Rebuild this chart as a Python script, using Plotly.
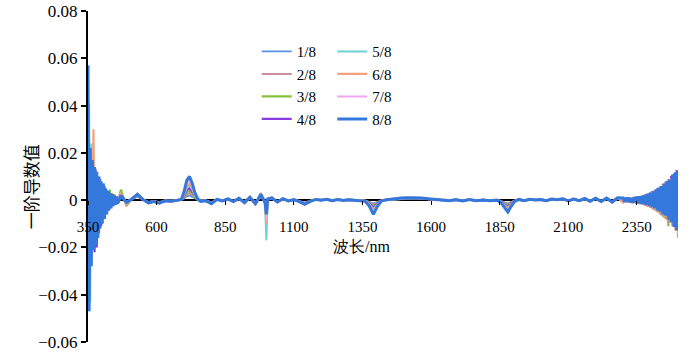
import numpy as np
import plotly.graph_objects as go

# wavelength sampling (nm)
wavelength = [
    350, 354, 358, 362, 366, 370, 374, 378, 382, 386, 390, 394, 398, 402, 406, 410, 414, 418, 422, 426, 430, 434, 438, 442, 446, 450, 454, 458,
    470, 490, 510, 530, 550, 570, 590, 610, 630, 650, 670, 690,
    700, 710, 720, 730, 740, 750, 760,
    780, 800, 820, 840, 860, 880, 900, 920, 940, 960, 980,
    995, 1000, 1005,
    1020, 1040, 1060, 1080, 1100, 1120, 1140, 1160, 1180, 1200, 1220, 1240, 1260, 1280, 1300, 1320, 1340,
    1360, 1375, 1390, 1405, 1420,
    1440, 1465, 1490, 1515, 1540, 1565, 1590, 1615, 1640, 1665, 1690, 1715, 1740, 1765, 1790, 1815, 1840,
    1855, 1870, 1880, 1890, 1905,
    1920, 1940, 1960, 1980, 2000, 2020, 2040, 2060, 2080, 2100, 2120, 2140, 2160, 2180, 2200, 2220, 2240, 2260, 2280,
    2300, 2305, 2310, 2315, 2320, 2325, 2330, 2335, 2340, 2345, 2350, 2355, 2360, 2365, 2370, 2375, 2380, 2385, 2390, 2395,
    2400, 2405, 2410, 2415, 2420, 2425, 2430, 2435, 2440, 2445, 2450, 2455, 2460, 2465, 2470, 2475, 2480, 2485, 2490, 2495, 2500,
]

# first-derivative values, in units of 1e-3
d_1_8 = [
    12, -15, 9, -11, 8, -10, 7, -8, 6, -7, 5, -6, 4, -5, 3.5, -4, 3, -3, 2.5, -2.5, 2, -2, 1.5, -1.5, 1.2, -1.2, 1, -1,
    1.2, -0.6, 0.3, 1.5, 0.2, -0.7, -0.3, -0.8, -0.2, -0.3, -0.1, 0.2,
    0.7, 1.6, 2.0, 1.4, 0.6, 0.1, -0.2,
    -0.2, -0.8, 0.2, -0.2, 0.3, -0.4, 0.5, -0.6, 0.7, -0.8, 1.2,
    -0.5, -3.0, 0.3,
    0.6, -0.5, 0.4, -0.2, 0.1, -0.4, -0.9, -0.3, 0.2, 0.0, 0.2, -0.1, 0.2, -0.1, 0.1, 0.0, -0.2,
    -0.2, -0.7, -1.5, -0.7, -0.1,
    0.1, 0.3, 0.5, 0.6, 0.6, 0.5, 0.3, 0.2, 0.1, -0.1, 0.1, -0.2, 0.2, -0.1, 0.1, -0.2, 0.0,
    -0.3, -1.0, -1.4, -0.8, -0.2,
    0.2, -0.1, 0.2, 0.1, 0.2, -0.1, 0.3, 0.1, 0.3, -0.2, 0.3, -0.1, 0.4, -0.3, 0.5, -0.4, 0.5, -0.5, 0.6,
    0.5, -0.4, 0.6, -0.4, 0.6, -0.5, 0.5, -0.7, 0.8, -0.6, 0.8, -0.8, 1.0, -0.9, 1.1, -1.0, 1.3, -1.2, 1.6, -1.4,
    1.9, -1.7, 2.2, -2.0, 2.8, -2.6, 3.2, -3.0, 3.6, -3.6, 4.2, -4.0, 4.8, -5.0, 5.4, -5.8, 6.6, -7.0, 7.4, -7.8, 7.6,
]
d_2_8 = [
    15, -18, 11, -13, 9, -12, 8, -10, 7, -8, 6, -7, 5, -6, 4, -5, 3.5, -3.5, 3, -3, 2.5, -2.5, 2, -2, 1.5, -1.5, 1.2, -1.2,
    1.5, -0.8, 0.4, 1.8, 0.2, -0.9, -0.4, -1.0, -0.2, -0.4, -0.1, 0.2,
    1.0, 2.4, 3.0, 2.1, 0.9, 0.2, -0.2,
    -0.2, -1.0, 0.2, -0.2, 0.4, -0.4, 0.6, -0.7, 0.9, -1.0, 1.5,
    -0.6, -4.0, 0.3,
    0.7, -0.6, 0.4, -0.2, 0.2, -0.4, -1.1, -0.3, 0.2, 0.0, 0.3, -0.1, 0.2, -0.1, 0.1, 0.0, -0.2,
    -0.2, -0.9, -2.0, -0.9, -0.1,
    0.1, 0.4, 0.6, 0.7, 0.7, 0.6, 0.4, 0.2, 0.1, -0.1, 0.1, -0.2, 0.2, -0.1, 0.1, -0.2, 0.0,
    -0.4, -1.3, -1.8, -1.1, -0.2,
    0.2, -0.1, 0.3, 0.1, 0.2, -0.2, 0.3, 0.1, 0.4, -0.2, 0.4, -0.2, 0.5, -0.4, 0.6, -0.5, 0.6, -0.6, 0.7,
    -0.6, 0.7, -0.5, 0.7, -0.8, 0.6, -0.9, 0.9, -0.8, 1.0, -1.2, 1.0, -1.3, 1.2, -1.5, 1.4, -1.7, 1.7, -2.1, 2.0,
    -2.4, 2.3, -2.9, 2.8, -3.4, 3.3, -4.0, 3.9, -4.6, 4.5, -5.2, 5.1, -5.9, 5.8, -6.5, 6.3, -7.6, 7.4, -8.3, 8.0, -8.6,
]
d_3_8 = [
    8, -10, 12, -14, 20, -19, 13, -15, 10, -11, 8, -9, 6, -7, 7, -5, 4, -4, 3, -3, 4.5, -2.5, 3, -2, 2.5, -1.5, 1.5, -1.2,
    4.5, -2.5, 0.6, 2.0, 0.3, -1.0, -0.5, -1.1, -0.3, -0.4, -0.2, 0.3,
    1.4, 3.3, 4.0, 2.8, 1.2, 0.2, -0.3,
    -0.3, -1.2, 0.3, -0.3, 0.4, -0.5, 0.9, -1.2, 1.0, -1.3, 2.0,
    -0.8, -5.0, 0.4,
    0.8, -0.7, 0.5, -0.3, 0.2, -0.5, -1.3, -0.4, 0.3, 0.1, 0.3, -0.2, 0.3, -0.1, 0.2, 0.0, -0.2,
    -0.3, -1.2, -2.6, -1.2, -0.2,
    0.2, 0.4, 0.7, 0.8, 0.8, 0.7, 0.5, 0.2, 0.1, -0.2, 0.2, -0.2, 0.2, -0.2, 0.1, -0.2, 0.0,
    -0.5, -1.6, -2.3, -1.4, -0.3,
    0.2, -0.2, 0.3, 0.0, 0.3, -0.2, 0.4, 0.2, 0.5, -0.3, 0.4, -0.3, 0.6, -0.4, 0.7, -0.6, 0.8, -0.7, 0.9,
    0.8, -0.8, 0.7, -0.8, 0.9, -1.0, 0.8, -1.1, 1.1, -1.2, 1.3, -1.4, 1.5, -1.7, 1.8, -2.0, 2.2, -2.4, 2.6, -2.9,
    3.1, -3.5, 3.6, -4.1, 4.4, -5.0, 5.0, -6.0, 5.6, -7.0, 6.4, -8.0, 7.2, -11.0, 7.8, -9.0, 8.8, -10.0, 9.4, -10.5, 9.0,
]
d_4_8 = [
    -10, 14, -12, 16, -18, 12, -22, 13, -20, 10, -14, 9, -11, 7, -8, 6, -6, 4, -4.5, 3.5, -3, 2.5, -2.5, 2, -2, 1.5, -1.2, 1,
    1.8, -1.2, 0.5, 2.2, 0.2, -1.1, -0.5, -1.2, -0.3, -0.5, -0.2, 0.3,
    1.8, 4.2, 5.0, 3.5, 1.5, 0.3, -0.3,
    -0.3, -1.3, 0.3, -0.2, 0.5, -0.7, 0.7, -1.1, 1.3, -1.6, 2.2,
    -0.8, -7.0, 0.4,
    0.9, -0.7, 0.5, -0.3, 0.2, -0.5, -1.4, -0.4, 0.3, 0.0, 0.3, -0.2, 0.3, -0.1, 0.2, -0.1, -0.3,
    -0.3, -1.4, -3.2, -1.4, -0.2,
    0.2, 0.5, 0.7, 0.8, 0.9, 0.7, 0.5, 0.3, 0.1, -0.2, 0.2, -0.3, 0.2, -0.2, 0.1, -0.3, 0.0,
    -0.6, -2.0, -2.8, -1.7, -0.3,
    0.3, -0.2, 0.3, 0.1, 0.3, -0.2, 0.4, 0.1, 0.5, -0.3, 0.5, -0.2, 0.6, -0.5, 0.7, -0.6, 0.8, -0.8, 0.9,
    -0.8, 0.9, -0.7, 1.0, -1.0, 0.8, -1.1, 1.2, -1.0, 1.3, -1.5, 1.3, -1.7, 1.7, -2.0, 2.0, -2.4, 2.6, -2.8, 3.1,
    -3.3, 3.7, -3.9, 4.3, -4.6, 5.1, -5.4, 5.9, -6.4, 6.9, -7.3, 7.9, -8.2, 8.8, -9.4, 10.2, -10.8, 11.2, -11.8, 12.2, 12.0,
]
d_5_8 = [
    15, 41, -43, 24, -20, 16, -15, 12, -12, 10, -9, 8, -8, 6, -6, 5, -4.5, 4, -3.5, 3, -3, 2.5, -2, 2, -1.5, 1.5, -1.2, 1,
    2.5, -1.5, 0.6, 2.4, 0.3, -1.2, -0.6, -1.2, -0.3, -0.5, -0.2, 0.3,
    2.2, 5.2, 6.2, 4.4, 1.9, 0.3, -0.4,
    -0.3, -1.4, 0.4, -0.3, 0.5, -0.6, 1.0, -1.2, 1.4, -1.8, 2.8,
    -1.5, -17.0, 0.6,
    1.1, -0.9, 0.6, -0.4, 0.3, -0.6, -1.6, -0.5, 0.3, 0.1, 0.4, -0.2, 0.3, -0.2, 0.2, 0.0, -0.3,
    -0.4, -1.7, -3.8, -1.7, -0.2,
    0.2, 0.5, 0.8, 0.9, 1.0, 0.8, 0.5, 0.3, 0.1, -0.2, 0.2, -0.3, 0.3, -0.2, 0.1, -0.3, 0.0,
    -0.7, -2.3, -3.3, -2.0, -0.4,
    0.3, -0.2, 0.4, 0.1, 0.3, -0.2, 0.5, 0.2, 0.6, -0.3, 0.5, -0.3, 0.7, -0.5, 0.8, -0.7, 0.9, -0.8, 1.0,
    0.8, -0.7, 0.9, -0.7, 1.0, -0.8, 0.9, -1.1, 1.2, -1.0, 1.4, -1.3, 1.6, -1.5, 1.8, -1.8, 2.2, -2.1, 2.6, -2.5,
    3.0, -2.9, 3.5, -3.4, 4.2, -4.1, 4.9, -4.8, 5.6, -5.8, 6.5, -6.6, 7.6, -7.9, 8.2, -8.8, 9.8, -10.3, 10.8, -11.8, 11.3,
]
d_6_8 = [
    6, -12, 10, -14, -9, 30, -14, 12, -13, 9, -10, 8, -8, 6, -6, 5, -4, 4, -3.5, 3, -2.5, 2.5, -2, 2, -1.5, 1.5, -1, 1,
    3.0, -2.0, 0.7, 2.6, 0.4, -1.3, -0.6, -1.3, -0.4, -0.6, -0.2, 0.3,
    2.5, 6.0, 7.0, 5.0, 2.2, 0.4, -0.4,
    -0.3, -1.4, 0.3, -0.4, 0.6, -0.8, 0.9, -1.3, 1.5, -2.0, 3.0,
    -1.2, -10.0, 0.5,
    1.2, -0.9, 0.7, -0.4, 0.3, -0.7, -1.7, -0.5, 0.4, 0.0, 0.4, -0.3, 0.4, -0.1, 0.3, 0.0, -0.3,
    -0.4, -1.9, -4.3, -1.9, -0.3,
    0.2, 0.6, 0.9, 1.0, 1.0, 0.9, 0.6, 0.3, 0.1, -0.2, 0.2, -0.3, 0.3, -0.2, 0.1, -0.3, 0.0,
    -0.8, -2.6, -3.8, -2.3, -0.4,
    0.3, -0.3, 0.4, 0.1, 0.4, -0.3, 0.5, 0.2, 0.7, -0.4, 0.6, -0.3, 0.8, -0.6, 0.9, -0.7, 1.0, -0.9, 1.1,
    -0.8, 0.9, -0.9, 0.8, -1.0, 1.0, -0.9, 1.2, -1.3, 1.2, -1.5, 1.5, -1.6, 1.8, -2.0, 2.0, -2.3, 2.5, -2.8, 3.0,
    -3.3, 3.5, -3.9, 4.2, -4.8, 4.9, -5.4, 5.7, -6.4, 6.6, -7.4, 7.5, -8.5, 8.6, -9.6, 9.2, -10.8, 10.2, -12.8, 10.8, -16.0,
]
d_7_8 = [
    -8, 10, -12, 14, -13, 12, -12, 10, -10, 8, -8, 7, -6, 5, -5, 4, -4, 3, -3, 2.5, -2.5, 2, -2, 1.5, -1.5, 1.2, -1, 1,
    2.2, -1.4, 0.5, 2.3, 0.3, -1.1, -0.5, -1.2, -0.3, -0.5, -0.2, 0.3,
    3.0, 7.2, 8.5, 6.0, 2.6, 0.4, -0.4,
    -0.3, -1.3, 0.3, -0.3, 0.5, -0.6, 0.8, -1.0, 1.2, -1.4, 2.3,
    -0.9, -8.0, 0.4,
    1.0, -0.8, 0.6, -0.3, 0.2, -0.6, -1.5, -0.4, 0.3, 0.0, 0.3, -0.2, 0.3, -0.1, 0.2, 0.0, -0.3,
    -0.5, -2.2, -5.0, -2.2, -0.3,
    0.2, 0.5, 0.8, 0.9, 1.0, 0.8, 0.5, 0.3, 0.1, -0.2, 0.2, -0.3, 0.3, -0.2, 0.1, -0.3, 0.0,
    -0.9, -3.0, -4.3, -2.6, -0.4,
    0.3, -0.2, 0.4, 0.1, 0.3, -0.2, 0.5, 0.2, 0.6, -0.3, 0.5, -0.2, 0.7, -0.5, 0.8, -0.6, 0.9, -0.8, 1.0,
    0.7, -0.8, 0.8, -0.8, 0.9, -0.9, 0.9, -1.0, 1.2, -1.1, 1.3, -1.3, 1.5, -1.5, 1.7, -1.8, 2.1, -2.0, 2.4, -2.4,
    2.9, -2.8, 3.4, -3.3, 4.0, -3.9, 4.6, -4.6, 5.3, -5.5, 6.1, -6.2, 7.1, -7.3, 7.7, -8.3, 9.3, -9.8, 10.3, -10.8, 10.8,
]
d_8_8 = [
    57, -47, 22, -28, 17, -21, 14, -19, 12, -16, 10, -12, 8, -10, 7, -8, 5, -6, 4, -4.5, 3, -3.5, 2.5, -2.5, 2, -2, 1.5, -1.5,
    2.0, -1.0, 0.5, 2.5, 0.3, -1.2, -0.6, -1.3, -0.3, -0.5, -0.2, 0.3,
    3.5, 8.5, 10.0, 7.0, 3.0, 0.5, -0.5,
    -0.3, -1.5, 0.3, -0.3, 0.5, -0.6, 0.8, -1.0, 1.2, -1.5, 2.5,
    -1.0, -6.0, 0.5,
    1.0, -0.8, 0.6, -0.3, 0.2, -0.6, -1.8, -0.5, 0.3, 0.0, 0.4, -0.2, 0.3, -0.1, 0.2, 0.0, -0.3,
    -0.5, -2.5, -6.0, -2.5, -0.3,
    0.2, 0.6, 0.9, 1.0, 1.1, 0.9, 0.6, 0.3, 0.1, -0.2, 0.2, -0.3, 0.3, -0.2, 0.1, -0.3, 0.0,
    -1.0, -3.5, -5.0, -3.0, -0.5,
    0.3, -0.2, 0.4, 0.1, 0.3, -0.2, 0.5, 0.2, 0.6, -0.3, 0.5, -0.2, 0.7, -0.5, 0.8, -0.6, 0.9, -0.8, 1.0,
    0.9, -0.7, 1.0, -0.6, 1.1, -0.9, 0.8, -1.2, 1.3, -0.9, 1.5, -1.3, 1.6, -1.5, 1.9, -1.7, 2.3, -2.0, 2.7, -2.4,
    3.2, -2.9, 3.7, -3.4, 4.6, -4.3, 5.3, -4.9, 5.9, -6.0, 7.0, -6.6, 8.1, -8.2, 8.7, -9.3, 10.8, -11.3, 11.8, -12.8, 12.5,
]

series_names = ["1/8", "2/8", "3/8", "4/8", "5/8", "6/8", "7/8", "8/8"]
series_values = [d_1_8, d_2_8, d_3_8, d_4_8, d_5_8, d_6_8, d_7_8, d_8_8]
series_colors = ["#5b8ee6", "#c98f9c", "#86c23a", "#8a3ce0", "#6fd2d6", "#f2a37e", "#f2a6ee", "#3578dc"]
series_widths = [1.8, 2.0, 2.2, 2.2, 2.0, 2.2, 2.0, 3.0]
y_ticks = [-0.06, -0.04, -0.02, 0, 0.02, 0.04, 0.06, 0.08]
x_ticks = [350, 600, 850, 1100, 1350, 1600, 1850, 2100, 2350]

for v in series_values:
    assert len(v) == len(wavelength), (len(v), len(wavelength))

fig = go.Figure()
for i, (name, vals, col, w) in enumerate(zip(series_names, series_values, series_colors, series_widths)):
    fig.add_trace(go.Scatter(
        x=wavelength, y=np.array(vals) / 1000.0, mode="lines", name=name,
        line=dict(color=col, width=w),
        legend="legend" if i < 4 else "legend2",
    ))

serif = "Liberation Serif"
leg_common = dict(
    yanchor="top", xanchor="left", bgcolor="rgba(0,0,0,0)", borderwidth=0,
    font=dict(family=serif, size=15, color="black"), itemwidth=30,
)
fig.update_layout(
    template="none",
    font=dict(family=serif, size=15, color="black"),
    width=694, height=355,
    margin=dict(l=88, r=16, t=11, b=13),
    paper_bgcolor="white", plot_bgcolor="white",
    showlegend=True,
    legend=dict(x=0.286, y=0.927, **leg_common),
    legend2=dict(x=0.414, y=0.927, **leg_common),
    xaxis=dict(
        range=[350, 2500], tickvals=x_ticks, ticks="outside", ticklen=4, tickwidth=1.2,
        tickcolor="black", showline=False,
        anchor="free", position=0.06 / 0.14, showgrid=False, zeroline=False,
        layer="above traces", ticklabelstandoff=9,
        tickfont=dict(family=serif, size=15, color="black"),
    ),
    yaxis=dict(
        range=[-0.06, 0.08], tickvals=y_ticks, ticks="outside", ticklen=5, tickwidth=1.5,
        tickcolor="black", showline=True, linecolor="black", linewidth=2,
        showgrid=False, zeroline=True, zerolinecolor="black", zerolinewidth=1.5,
        tickfont=dict(family=serif, size=17, color="black"),
    ),
    annotations=[
        dict(text="波长/nm", xref="paper", yref="paper", x=0.464, y=0.29,
             xanchor="center", yanchor="middle", showarrow=False,
             font=dict(family=serif, size=16, color="black")),
        dict(text="一阶导数值", xref="paper", yref="paper", x=-0.098, y=0.468,
             xanchor="center", yanchor="middle", showarrow=False, textangle=-90,
             font=dict(family="Noto Sans CJK SC", size=17, color="black")),
    ],
)
fig.write_html("out.html")
